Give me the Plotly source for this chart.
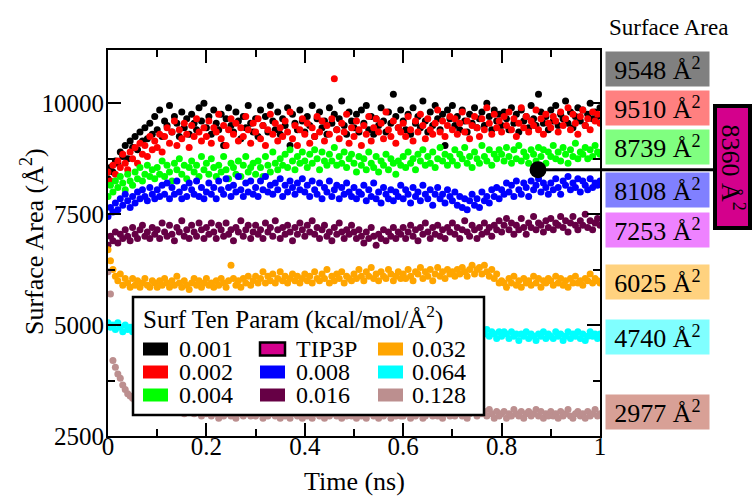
import plotly.graph_objects as go

# ---------------- data ----------------
time = [round(i * 0.005, 3) for i in range(201)]

series_names = ["0.001", "0.002", "0.004", "0.008", "0.016", "0.032", "0.064", "0.128"]
series_colors = ["#000000", "#FF0000", "#00FF00", "#0000FF", "#660045", "#FFA500", "#00FFFF", "#BC8F8F"]

area_0001 = [8300, 8550, 8450, 8700, 8650, 8900, 8800, 9050, 8750, 9150, 9000, 9250, 8950, 9350, 9150, 9450, 9200, 9550, 9300, 9700,
             9400, 9850, 9250, 9600, 9500, 9950, 9350, 9700, 9550, 9250, 9800, 9450, 9650, 9300, 9750, 9550, 9400, 9900, 9600, 10000,
             9450, 9700, 9300, 9850, 9550, 9400, 9750, 9050, 9650, 9900, 9500, 9350, 9800, 9600, 9200, 9700, 9450, 9950, 9550, 9350,
             9650, 9250, 9850, 9500, 9700, 9350, 9950, 9600, 9400, 9800, 9300, 9650, 9500, 9900, 9050, 9750, 9550, 9400, 9850, 9600,
             9350, 9700, 9500, 9950, 9250, 9650, 9800, 9450, 9600, 9300, 9900, 9550, 9750, 9400, 9650, 10050, 9500, 9300, 9800, 9600,
             9450, 9750, 9350, 9850, 9550, 9950, 9400, 9700, 9300, 9650, 9500, 9900, 9600, 9350, 9800, 9550, 10200, 9700, 9450, 9850,
             9600, 9400, 9750, 9300, 9900, 9550, 9700, 9450, 10050, 9600, 9350, 9800, 9500, 9950, 9650, 9400, 9750, 9050, 9850, 9650,
             9950, 9500, 9700, 9400, 9850, 9600, 9350, 9750, 9550, 9900, 9450, 9650, 9800, 9500, 10000, 9700, 9400, 9850, 9600, 9750,
             9500, 9800, 9650, 9400, 9900, 9550, 9750, 9350, 9850, 9600, 9700, 9450, 9950, 9650, 9500, 10200, 9800, 9550, 9700, 9400,
             9850, 9600, 9950, 9500, 9750, 9650, 10050, 9550, 9800, 9450, 9700, 9900, 9600, 9850, 9500, 9750, 10000, 9650, 9800, 9700,
             9900]
area_0002 = [8450, 8250, 8600, 8400, 8700, 8550, 8850, 8650, 8500, 8900, 8750, 9000, 8650, 9100, 8850, 9050, 8800, 9250, 8950, 9150,
             9000, 9300, 8900, 9250, 9450, 9100, 9350, 9600, 9050, 9400, 9200, 9550, 9300, 9000, 9500, 9250, 9650, 9350, 9150, 9450,
             9250, 9600, 9100, 9450, 9350, 9750, 9200, 9500, 9050, 9400, 9650, 9300, 9550, 9150, 9450, 9250, 9700, 9400, 9100, 9550,
             9350, 9650, 9200, 9500, 9050, 9400, 9750, 9300, 9550, 9150, 9450, 9250, 9600, 9350, 9800, 9200, 9500, 9050, 9400, 9650,
             9300, 9550, 9100, 9450, 9250, 9700, 9350, 9600, 9150, 9500, 9300, 9650, 10550, 9400, 9200, 9550, 9350, 9750, 9100, 9450,
             9250, 9600, 9400, 9050, 9500, 9300, 9700, 9150, 9450, 9650, 9350, 9550, 9200, 9800, 9400, 9250, 9600, 9100, 9450, 9350,
             9550, 9250, 9700, 9400, 9150, 9600, 9350, 9750, 9500, 9200, 9650, 9400, 9300, 9550, 9850, 9350, 9600, 9250, 9500, 9700,
             9400, 9650, 9300, 9550, 9800, 9350, 9600, 9200, 9500, 9700, 9450, 9250, 9650, 9400, 9900, 9550, 9300, 9750, 9450, 9600,
             9350, 9700, 9500, 9800, 9400, 9650, 9250, 9550, 9900, 9450, 9700, 9350, 9600, 9500, 9850, 9400, 9650, 9300, 9750, 9550,
             9450, 9700, 9600, 9350, 9800, 9500, 9650, 9900, 9400, 9750, 9550, 9300, 9700, 9850, 9500, 9650, 9400, 9800, 9600, 9750,
             9550]
area_0004 = [7900, 8150, 8000, 8250, 8100, 8350, 8200, 8050, 8400, 8250, 8150, 8450, 8300, 8550, 8250, 8400, 8600, 8350, 8500, 8300,
             8550, 8400, 8700, 8350, 8600, 8450, 8250, 8650, 8500, 8750, 8400, 8600, 8300, 8550, 8700, 8450, 8600, 8350, 8800, 8500,
             8650, 8400, 8750, 8550, 8350, 8600, 8450, 8800, 8500, 8300, 8650, 8550, 8400, 8700, 8350, 8600, 8800, 8450, 8550, 8650,
             8400, 8700, 8550, 8350, 8800, 8600, 8450, 8900, 8650, 8500, 8750, 8600, 8850, 8550, 8950, 8700, 8500, 8800, 8650, 8900,
             8700, 8550, 8850, 8650, 8950, 8750, 8500, 8900, 8700, 8600, 8850, 8700, 9000, 8600, 8800, 8650, 8900, 8550, 8750, 8850,
             8650, 8450, 8800, 8600, 8750, 8500, 8900, 8650, 8550, 8800, 8450, 8700, 8600, 8850, 8500, 8750, 8650, 8400, 8700, 8600,
             8800, 8550, 8900, 8650, 8750, 8500, 8850, 8700, 8950, 8600, 8800, 8650, 8900, 8550, 8750, 9000, 8700, 8850, 8600, 8800,
             8700, 8950, 8600, 8850, 8750, 9000, 8650, 8800, 8550, 8900, 8750, 8650, 9050, 8800, 8700, 8950, 8600, 8850, 8750, 8950,
             8850, 8700, 9000, 8800, 8650, 8950, 8750, 9050, 8700, 8900, 8800, 8650, 8950, 8850, 8700, 9000, 8800, 8950, 8650, 8900,
             8800, 9050, 8750, 8900, 8700, 9000, 8850, 8650, 8950, 8800, 9100, 8750, 8900, 8850, 9000, 8750, 8950, 8800, 9050, 8900,
             8850]
area_0008 = [7450, 7650, 7550, 7750, 7600, 7850, 7700, 7950, 7800, 7650, 7900, 7750, 8000, 7850, 8050, 7900, 7800, 8100, 7950, 7850,
             8050, 7900, 8150, 7950, 8200, 7850, 8100, 7950, 8250, 8000, 7850, 8100, 7900, 8200, 8050, 7950, 8250, 7900, 8100, 7850,
             8000, 8200, 7950, 8100, 7850, 8250, 8050, 7950, 8300, 8100, 7900, 8150, 8000, 8350, 8050, 7900, 8200, 8000, 8250, 7950,
             8100, 7900, 8250, 8050, 8350, 8000, 8150, 7950, 8200, 8050, 8300, 7900, 8150, 8000, 8250, 8100, 7950, 8200, 8050, 8300,
             8000, 8150, 7900, 8250, 8050, 7950, 8200, 7850, 8100, 8000, 8250, 7900, 8050, 8150, 7850, 8100, 7950, 8200, 8000, 7900,
             8100, 7850, 8000, 7950, 8150, 7800, 8050, 7900, 8200, 7850, 8000, 7750, 8100, 7950, 7850, 8050, 7800, 8000, 7900, 8150,
             7850, 8050, 7950, 7750, 8100, 7900, 8000, 7800, 8150, 7950, 7850, 8050, 7700, 7950, 8100, 7850, 7950, 7750, 8050, 7900,
             7800, 8000, 7700, 7900, 7650, 7850, 7600, 7800, 7950, 7700, 7850, 7650, 8000, 7800, 7900, 7750, 8050, 7900, 8100, 7850,
             8050, 7950, 8200, 8000, 8150, 7900, 8250, 8050, 7950, 8200, 8100, 7900, 8250, 8050, 8150, 8300, 8000, 8200, 8100, 7950,
             8200, 8050, 8300, 8100, 7950, 8250, 8150, 8350, 8050, 8200, 8100, 8300, 8000, 8250, 8150, 8050, 8300, 8100, 8200, 8150,
             8250]
area_0016 = [6800, 7000, 6900, 7100, 6850, 7050, 6950, 7150, 7000, 6900, 7200, 7050, 6950, 7150, 7250, 7000, 7100, 6950, 7200, 7050,
             7150, 6950, 7300, 7100, 7000, 7250, 7050, 6900, 7200, 7100, 7350, 7000, 7150, 6950, 7250, 7100, 7000, 7300, 7150, 6950,
             7200, 7050, 7300, 7100, 6950, 7250, 7150, 7000, 7300, 7050, 7150, 6900, 7200, 7100, 7350, 7000, 7150, 7250, 6950, 7100,
             7250, 7050, 7150, 6950, 7300, 7100, 7200, 7000, 7350, 7150, 6950, 7200, 7050, 7250, 7100, 6900, 7200, 7050, 7300, 7150,
             7000, 7250, 7100, 7350, 7050, 7200, 6950, 7150, 7250, 7000, 7100, 6900, 7200, 7050, 7300, 7100, 6950, 7150, 7050, 7250,
             7100, 6950, 7150, 7000, 6850, 7100, 6950, 7200, 7000, 6800, 7050, 6950, 7150, 6900, 7100, 7000, 7200, 6950, 7100, 7050,
             7200, 6950, 7100, 7250, 7000, 7150, 6900, 7200, 7050, 7300, 7100, 6950, 7200, 7050, 7250, 7000, 7150, 6950, 7200, 7100,
             7300, 7050, 7200, 6950, 7150, 7350, 7100, 7000, 7250, 7150, 6950, 7200, 7050, 7300, 7100, 7200, 7000, 7250, 7150, 7350,
             7100, 7250, 7400, 7150, 7300, 7050, 7250, 7150, 7400, 7200, 7050, 7300, 7200, 7450, 7150, 7300, 7250, 7100, 7350, 7200,
             7400, 7150, 7300, 7250, 7450, 7200, 7350, 7100, 7300, 7450, 7250, 7150, 7350, 7250, 7500, 7200, 7350, 7150, 7300, 7400,
             7250]
area_0032 = [6700, 6450, 6250, 6100, 6000, 6150, 5900, 6050, 5950, 5850, 6050, 5900, 6000, 5850, 5950, 6050, 5900, 5850, 6000, 5950,
             5850, 6000, 5900, 6050, 5950, 5850, 6000, 5900, 6100, 5950, 5850, 6000, 5900, 5800, 5950, 6050, 5900, 6000, 5850, 5950,
             6050, 5900, 5950, 5850, 6000, 5900, 6050, 5950, 5850, 6000, 6350, 6050, 5900, 6000, 5850, 6050, 5950, 6100, 5900, 6000,
             6100, 5950, 6050, 6200, 5950, 6100, 6000, 6150, 5950, 6050, 6200, 6000, 6100, 5950, 6050, 6150, 6000, 6100, 5950, 6050,
             6150, 6000, 6100, 5950, 6200, 6050, 6000, 6150, 6050, 6250, 5950, 6100, 6000, 6150, 6050, 6200, 5950, 6100, 6050, 6000,
             6150, 6050, 6250, 6100, 6000, 6200, 6100, 6300, 6050, 6150, 6000, 6200, 6100, 6050, 6250, 6150, 6000, 6100, 6200, 6050,
             6150, 6050, 6250, 6100, 6000, 6200, 6150, 6300, 6050, 6200, 6100, 6250, 6000, 6150, 6300, 6100, 6200, 6050, 6250, 6150,
             6200, 6100, 6250, 6150, 6300, 6200, 6100, 6250, 6350, 6150, 6250, 6300, 6150, 6350, 6200, 6100, 6250, 6050, 6150, 5950,
             6000, 5950, 5850, 6050, 5950, 6100, 5900, 6000, 5850, 6050, 5950, 6000, 5900, 6100, 5950, 6050, 5850, 6000, 5950, 6050,
             6000, 5900, 6100, 5950, 6050, 5900, 6000, 5850, 6050, 5950, 6100, 5950, 6000, 5900, 6050, 6000, 6150, 5950, 6050, 6000,
             5950]
area_0064 = [5050, 4950, 5000, 4900, 5050, 4950, 4850, 5000, 4900, 4950, 4850, 5000, 4900, 4950, 4850, 4950, 4900, 4850, 4950, 4900,
             4850, 4950, 4900, 4800, 4950, 4850, 4900, 4800, 4950, 4850, 4900, 4800, 4850, 4950, 4850, 4800, 4900, 4850, 4750, 4900,
             4850, 4900, 4800, 4850, 4950, 4800, 4900, 4850, 4750, 4900, 4850, 4800, 4900, 4850, 4750, 4850, 4900, 4800, 4850, 4750,
             4900, 4800, 4850, 4750, 4900, 4850, 4800, 4900, 4750, 4850, 4800, 4900, 4850, 4750, 4850, 4800, 4900, 4800, 4750, 4850,
             4800, 4900, 4750, 4850, 4800, 4750, 4900, 4850, 4800, 4750, 4850, 4900, 4800, 4850, 4750, 4800, 4900, 4850, 4750, 4800,
             4850, 4750, 4900, 4800, 4850, 4750, 4800, 4900, 4750, 4850, 4800, 4750, 4850, 4900, 4800, 4750, 4850, 4800, 4900, 4750,
             4800, 4850, 4750, 4900, 4800, 4750, 4850, 4800, 4900, 4750, 4850, 4800, 4750, 4850, 4900, 4800, 4750, 4850, 4800, 4750,
             4850, 4800, 4900, 4750, 4850, 4800, 4950, 4750, 4850, 4900, 4800, 4700, 4850, 4800, 4900, 4750, 4850, 4800, 4700, 4850,
             4750, 4850, 4800, 4700, 4850, 4750, 4800, 4650, 4800, 4750, 4850, 4700, 4800, 4750, 4650, 4800, 4750, 4850, 4700, 4800,
             4750, 4700, 4850, 4750, 4800, 4650, 4750, 4850, 4700, 4800, 4750, 4850, 4700, 4800, 4650, 4750, 4850, 4750, 4800, 4700,
             4800]
area_0128 = [6200, 5700, 4200, 4050, 3900, 3800, 3650, 3550, 3450, 3400, 3350, 3300, 3400, 3250, 3350, 3300, 3200, 3300, 3250, 3150,
             3250, 3150, 3200, 3100, 3250, 3150, 3100, 3200, 3050, 3150, 3100, 3000, 3150, 3050, 3100, 3000, 3100, 3050, 2950, 3100,
             3000, 3100, 2950, 3050, 3000, 2900, 3050, 2950, 3100, 3000, 2950, 3050, 2900, 3000, 3050, 2950, 3000, 3100, 2950, 3000,
             2950, 3050, 3000, 2900, 3050, 2950, 3000, 3100, 2950, 3000, 2900, 3050, 2950, 3000, 2900, 3050, 3000, 2950, 3050, 2900,
             3000, 2950, 3050, 2900, 3000, 3050, 2950, 3000, 2900, 3050, 2950, 3000, 3100, 2950, 3000, 2900, 3050, 2950, 3000, 2950,
             3050, 2900, 3000, 2950, 3050, 2900, 3000, 3050, 2950, 3000, 2900, 3050, 2950, 3000, 3050, 2900, 3000, 2950, 3050, 2950,
             2950, 3000, 3050, 2900, 3000, 2950, 3050, 3000, 2900, 2950, 3050, 3000, 2950, 3100, 2950, 3000, 2900, 3050, 3000, 2950,
             3050, 2950, 3000, 3100, 2950, 3050, 2900, 3000, 3150, 3050, 2950, 3100, 3000, 3050, 2950, 3100, 3000, 2900, 3050, 2950,
             3000, 3050, 2900, 3000, 2950, 3100, 3000, 2950, 3050, 2900, 3000, 3050, 2950, 3000, 3100, 2950, 3050, 2900, 3000, 2950,
             3050, 2950, 3000, 2900, 3050, 2950, 3000, 3100, 2950, 2900, 3000, 3050, 2950, 3000, 2900, 3050, 2950, 3000, 3100, 2950,
             3000]
series_values = [area_0001, area_0002, area_0004, area_0008, area_0016, area_0032, area_0064, area_0128]

tip3p_name = "TIP3P"
tip3p_color = "#D4008C"
tip3p_time = [0.874]
tip3p_area = [8500]
tip3p_label = 8360

final_labels = [9548, 9510, 8739, 8108, 7253, 6025, 4740, 2977]
final_label_colors = ["#808080", "#FF8080", "#80FF80", "#8080FF", "#EE82FF", "#FFD27F", "#80FFFF", "#D8A096"]
final_label_ypx = [69, 108, 147, 190, 230, 282, 337, 412]

legend_order = [["0.001", "0.002", "0.004"], ["TIP3P", "0.008", "0.016"], ["0.032", "0.064", "0.128"]]

# ---------------- figure ----------------
W, H = 752, 496
ML, MR, MT, MB = 108, 152, 50, 60
PW, PH = W - ML - MR, H - MT - MB
YMIN, YMAX = 2500, 11200
FONT = "Liberation Serif, Times New Roman, serif"


def px_x(x):
    return (x - ML) / PW


def px_y(y):
    return (H - MB - y) / PH


fig = go.Figure()
for name, color, vals in zip(series_names, series_colors, series_values):
    fig.add_trace(go.Scatter(x=time, y=vals, mode="markers", name=name,
                             marker=dict(color=color, size=7, line=dict(width=0)),
                             showlegend=False))

fig.add_trace(go.Scatter(x=tip3p_time, y=tip3p_area, mode="markers", name=tip3p_name,
                         marker=dict(color="black", size=17), showlegend=False))

shapes = []
annotations = []

# connector line from TIP3P point to its box
tip_y_paper = (tip3p_area[0] - YMIN) / (YMAX - YMIN)
box_x0, box_x1 = px_x(715), px_x(750)
shapes.append(dict(type="line", xref="paper", yref="paper", x0=tip3p_time[0], x1=box_x0,
                   y0=tip_y_paper, y1=tip_y_paper, line=dict(color="black", width=3), layer="above"))
shapes.append(dict(type="rect", xref="paper", yref="paper", x0=box_x0, x1=box_x1,
                   y0=px_y(228), y1=px_y(106), fillcolor=tip3p_color,
                   line=dict(color="black", width=4), layer="above"))
annotations.append(dict(xref="paper", yref="paper", x=px_x(732.5), y=px_y(167),
                        xanchor="center", yanchor="middle",
                        text=f"{tip3p_label} Å<sup>2</sup>", textangle=90, showarrow=False,
                        font=dict(family=FONT, size=26, color="black")))

# right-side final value boxes
for val, col, ypx in zip(final_labels, final_label_colors, final_label_ypx):
    annotations.append(dict(xref="paper", yref="paper", x=px_x(657.5), y=px_y(ypx),
                            xanchor="center", yanchor="middle",
                            text=f"{val} Å<sup>2</sup>", showarrow=False, bgcolor=col,
                            width=103, height=34, borderpad=0, valign="middle",
                            font=dict(family=FONT, size=26, color="black")))

annotations.append(dict(xref="paper", yref="paper", x=px_x(668), y=px_y(27),
                        text="Surface Area", showarrow=False, xanchor="center", yanchor="middle",
                        font=dict(family=FONT, size=23, color="black")))

# custom legend
shapes.append(dict(type="rect", xref="paper", yref="paper", x0=px_x(133), x1=px_x(484),
                   y0=px_y(415), y1=px_y(297), fillcolor="white",
                   line=dict(color="black", width=2.5), layer="above"))
annotations.append(dict(xref="paper", yref="paper", x=px_x(141), y=px_y(317),
                        xanchor="left", yanchor="middle", showarrow=False,
                        text="Surf Ten Param (kcal/mol/Å<sup>2</sup>)",
                        font=dict(family=FONT, size=25, color="black")))
color_of = dict(zip(series_names, series_colors))
color_of[tip3p_name] = tip3p_color
col_sw_x = [143, 260, 378]
col_tx_x = [178, 295, 411]
row_y = [349, 372, 395]
for ci, col in enumerate(legend_order):
    for ri, nm in enumerate(col):
        yc = row_y[ri]
        is_tip = nm == tip3p_name
        shapes.append(dict(type="rect", xref="paper", yref="paper",
                           x0=px_x(col_sw_x[ci]), x1=px_x(col_sw_x[ci] + 25),
                           y0=px_y(yc + 6.5), y1=px_y(yc - 6.5), fillcolor=color_of[nm],
                           line=dict(color="black" if is_tip else color_of[nm], width=2.5 if is_tip else 0),
                           layer="above"))
        annotations.append(dict(xref="paper", yref="paper", x=px_x(col_tx_x[ci]), y=px_y(yc),
                                xanchor="left", yanchor="middle", showarrow=False, text=nm,
                                height=22, valign="middle", borderpad=0,
                                font=dict(family=FONT, size=24, color="black")))

# axis titles
annotations.append(dict(xref="paper", yref="paper", x=px_x(32), y=px_y(242), textangle=-90,
                        text="Surface Area (Å<sup>2</sup>)", showarrow=False,
                        xanchor="center", yanchor="middle",
                        font=dict(family=FONT, size=26, color="black")))
annotations.append(dict(xref="paper", yref="paper", x=px_x(354), y=px_y(481),
                        text="Time (ns)", showarrow=False, xanchor="center", yanchor="middle",
                        font=dict(family=FONT, size=26, color="black")))

axis_common = dict(showline=True, linecolor="black", linewidth=2, mirror="allticks",
                   ticks="inside", tickcolor="black", tickwidth=2, ticklen=13,
                   showgrid=False, zeroline=False,
                   tickfont=dict(family=FONT, size=25, color="black"))

fig.update_layout(
    width=W, height=H,
    margin=dict(l=ML, r=MR, t=MT, b=MB, autoexpand=False),
    paper_bgcolor="white", plot_bgcolor="white",
    showlegend=False,
    xaxis=dict(range=[0, 1], tick0=0, dtick=0.2, ticklabelstandoff=-13,
               minor=dict(dtick=0.1, ticks="inside", ticklen=7, tickcolor="black", tickwidth=2),
               **axis_common),
    yaxis=dict(range=[YMIN, YMAX], tick0=2500, dtick=2500, tickformat="d", ticklabelstandoff=-3,
               minor=dict(dtick=1250, ticks="inside", ticklen=7, tickcolor="black", tickwidth=2),
               **axis_common),
    shapes=shapes,
    annotations=annotations,
)

fig.write_html("out.html", config={"displayModeBar": False},
               post_script="document.body.style.margin='0px';document.body.style.overflow='hidden';")
